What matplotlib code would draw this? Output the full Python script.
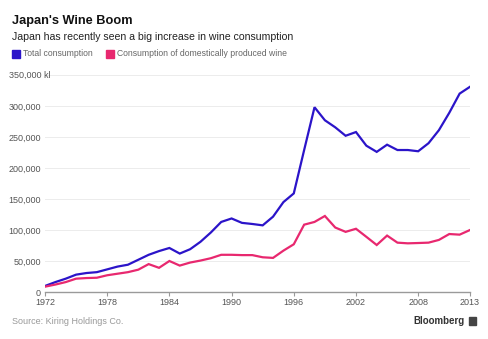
"""
Japan's wine boom: total vs domestic wine consumption, 1972-2013.
"""

import matplotlib
matplotlib.use("Agg")
import matplotlib.pyplot as plt
from matplotlib.patches import Rectangle

years = list(range(1972, 2014))

total = [9700, 16000, 21500, 28000, 30600, 32000, 36500, 41000, 44000, 52000,
         60000, 66000, 71000, 62000, 69000, 81000, 96000, 113000, 118600, 111500,
         109700, 107500, 121500, 145000, 159000, 229000, 298000, 277000, 265600, 252000,
         258000, 236000, 226000, 237600, 229000, 229000, 227000, 240000, 261000, 289000,
         320000, 331000]

domestic = [8600, 12000, 16000, 21500, 22500, 23000, 27000, 29500, 32000, 36000,
            45000, 39000, 50000, 42600, 47500, 50700, 54500, 60000, 60000, 59500,
            59500, 56000, 55000, 66700, 77000, 108600, 113000, 122600, 104000, 97000,
            102000, 89000, 75800, 91000, 79600, 78500, 79000, 79600, 84000, 93500,
            92500, 100000]

x_ticks = [1972, 1978, 1984, 1990, 1996, 2002, 2008, 2013]
y_ticks = [0, 50000, 100000, 150000, 200000, 250000, 300000, 350000]

BLUE = '#2b14c9'
PINK = '#e8286f'
FONT = ['Liberation Sans', 'DejaVu Sans']

plt.rcParams['font.family'] = FONT

fig = plt.figure(figsize=(4.88, 3.39), dpi=100)
ax = fig.add_axes([45 / 488, 1 - 292 / 339, 425 / 488, 217 / 339])

ax.plot(years, total, color=BLUE, lw=1.6, solid_joinstyle='miter')
ax.plot(years, domestic, color=PINK, lw=1.6, solid_joinstyle='miter')

ax.set_xlim(1972, 2013)
ax.set_ylim(0, 350000)
ax.set_xticks(x_ticks)
ax.set_xticklabels([str(y) for y in x_ticks])
ax.set_yticks(y_ticks)
labels = ['{:,}'.format(v) for v in y_ticks]
labels[-1] = ''
ax.set_yticklabels(labels)

ax.grid(axis='y', color='#ececec', lw=0.7)
ax.set_axisbelow(True)
for s in ['top', 'right', 'left']:
    ax.spines[s].set_visible(False)
ax.spines['bottom'].set_color('#9a9a9a')
ax.spines['bottom'].set_linewidth(1.0)
ax.tick_params(axis='x', length=3, width=0.8, color='#9a9a9a', pad=1.5,
               labelsize=6.5, labelcolor='#555555')
ax.tick_params(axis='y', length=0, pad=3, labelsize=6.5, labelcolor='#555555')

# top label with unit
fig.text(9 / 488, 1 - 75 / 339, '350,000 kl', fontsize=6.5, color='#555555',
         ha='left', va='center')

# titles
fig.text(12 / 488, 1 - 21 / 339, "Japan's Wine Boom", fontsize=9.2,
         fontweight='bold', color='#111111', ha='left', va='center')
fig.text(12 / 488, 1 - 37 / 339,
         'Japan has recently seen a big increase in wine consumption',
         fontsize=7.6, color='#222222', ha='left', va='center')

# legend
fig.patches.append(Rectangle((12 / 488, 1 - 58 / 339), 8 / 488, 8 / 339,
                             color=BLUE, transform=fig.transFigure))
fig.text(23 / 488, 1 - 54 / 339, 'Total consumption', fontsize=6.2,
         color='#666666', ha='left', va='center')
fig.patches.append(Rectangle((106 / 488, 1 - 58 / 339), 8 / 488, 8 / 339,
                             color=PINK, transform=fig.transFigure))
fig.text(117 / 488, 1 - 54 / 339, 'Consumption of domestically produced wine',
         fontsize=6.2, color='#666666', ha='left', va='center')

# footer
fig.text(12 / 488, 1 - 321 / 339, 'Source: Kiring Holdings Co.', fontsize=6.5,
         color='#999999', ha='left', va='center')
fig.text(465 / 488, 1 - 321 / 339, 'Bloomberg', fontsize=7, fontweight='bold',
         color='#333333', ha='right', va='center')
fig.patches.append(Rectangle((469 / 488, 1 - 325 / 339), 7 / 488, 8 / 339,
                             color='#444444', transform=fig.transFigure))

fig.savefig('out.png', dpi=100)
